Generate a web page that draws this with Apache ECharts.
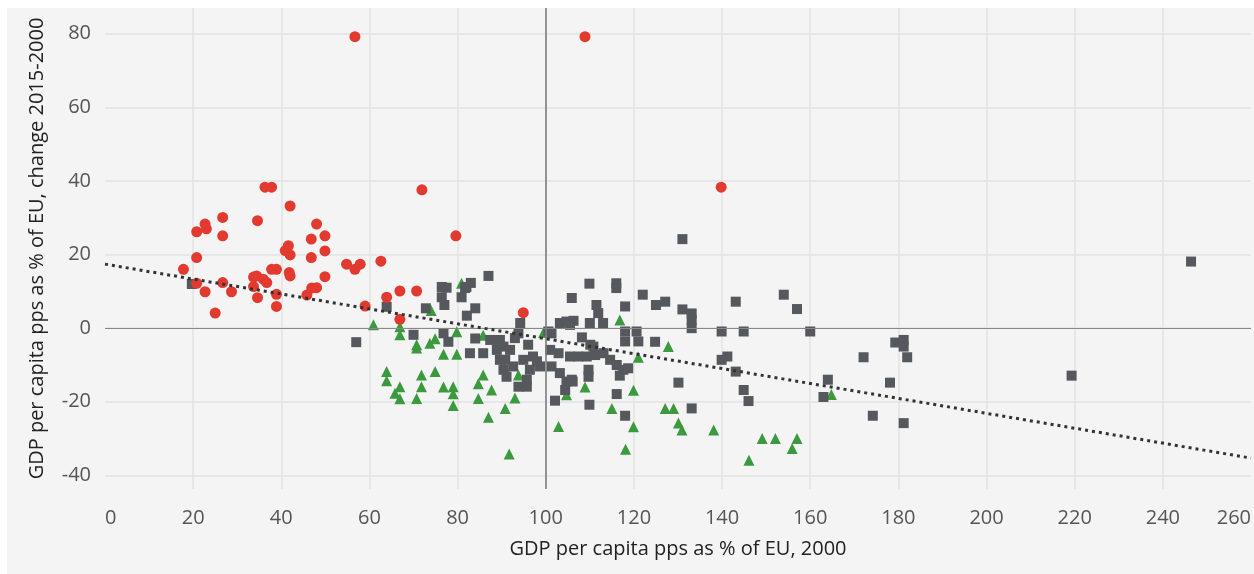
<!DOCTYPE html>
<html>
<head>
<meta charset="utf-8">
<script src="https://cdn.jsdelivr.net/npm/echarts@6/dist/echarts.min.js"></script>
<style>
  html, body { margin: 0; padding: 0; background: #ffffff; }
  #chart { position: absolute; left: 7px; top: 8px; width: 1247px; height: 566px; }
</style>
</head>
<body>
<div id="chart"></div>
<script>
// red circles
const redPts = [
  [56.7, 79.2], [108.9, 79.2], [139.8, 38.3], [36.3, 38.3], [37.8, 38.3], [42, 33.2],
  [26.7, 30.1], [34.6, 29.2], [22.7, 28.3], [23, 27], [20.8, 26.2], [26.7, 25.1],
  [48, 28.3], [46.8, 24.2], [49.9, 25.1], [41.6, 22.4], [40.9, 21.1], [42, 19.9],
  [49.9, 21.0], [46.8, 19.2], [20.8, 19.2], [17.8, 16.0], [54.8, 17.4], [56.7, 16.0],
  [57.9, 17.4], [62.6, 18.2], [37.8, 16.0], [38.9, 16.0], [41.8, 15.1], [42, 14.2],
  [49.9, 14.0], [33.7, 13.9], [34.4, 14.2], [35.9, 13.3], [36.7, 12.4], [33.7, 11.3],
  [20.8, 12.2], [26.7, 12.4], [22.7, 9.9], [28.7, 9.9], [34.6, 8.3], [38.9, 9.2],
  [38.9, 5.9], [45.8, 9.0], [46.9, 10.9], [48, 11.0], [25, 4.1], [59, 6.0],
  [71.9, 37.6], [79.6, 25.1], [63.9, 8.4], [66.9, 10.1], [70.7, 10.1], [66.9, 2.4],
  [94.9, 4.2]
];

// grey squares
const greyPts = [
  [19.7, 12.0], [57.0, -3.8], [63.9, 5.8], [70, -1.8], [72.8, 5.4], [76.4, 11.2],
  [77.5, 11.0], [76.4, 8.4], [77, 6.3], [80.9, 8.4], [81.7, 10.9], [82, 11.2],
  [83, 12.3], [87, 14.2], [84, 5.4], [82.1, 3.4], [76.8, -1.4], [77.9, -3.7],
  [84, -2.8], [82.8, -6.8], [85.8, -6.8], [87.4, -3.2], [89.6, -3.2], [90.4, -5],
  [88.9, -5.9], [89.6, -8.6], [90.4, -11.3], [91.1, -13.2], [91.9, -5.9], [92.6, -10.4],
  [93, -2.7], [94.2, 1.4], [93.8, -1.4], [93.8, -15.9], [95.7, -15.9], [95.7, -14],
  [96, -4.5], [97.1, -7.7], [96.4, -11.3], [94.9, -8.6], [98.7, -10.4], [98, -9],
  [101.3, -1.4], [101, -5.9], [101.3, -10.4], [102.9, -6.8], [102.1, -19.7], [103.2, 1.4],
  [104.7, 1.8], [106.3, 2.0], [105.9, 8.2], [103.2, -12.2], [104.7, -14.5], [105.9, -14],
  [104.4, -16.8], [105.5, 0.9], [107.4, -7.7], [105.5, -7.7], [109.3, -7.7], [111.2, -7.3],
  [108.2, -2.5], [110.1, -4.5], [110.8, -5], [110, 1.4], [111.9, 4.1], [111.5, 6.3],
  [113, 1.4], [109.9, 12.1], [116, 12.2], [116, 10.9], [122, 9.1], [125, 6.3],
  [127.1, 7.2], [118, 5.9], [109.7, -11.3], [109.7, -13.2], [106.1, -14.5], [113.1, -6.8],
  [114.6, -8.6], [116.1, -10], [117.6, -11.3], [118.7, -10.9], [116.8, -12.9], [116.1, -17.9],
  [109.9, -20.8], [118, -23.8], [118, -0.9], [120.6, -0.9], [118, -3.6], [121, -3.6],
  [124.8, -3.7], [131, 24.2], [131, 5.1], [133.1, 4.0], [133.1, 2.3], [133.1, 0],
  [130.1, -14.8], [133.1, -21.8], [139.9, -0.9], [139.9, -8.6], [141.2, -7.7], [143.1, 7.2],
  [143.1, -11.8], [144.9, -0.9], [144.9, -16.8], [146, -19.8], [154, 9.1], [157, 5.2],
  [160, -0.9], [163, -18.7], [164, -14], [172.1, -7.9], [174.2, -23.8], [178.1, -14.8],
  [179.3, -3.9], [181.2, -3.2], [181.2, -5], [182, -7.9], [181.2, -25.8], [219.3, -12.9],
  [246.4, 18.1], [100.6, -0.9], [90.8, -8.6]
];

// green triangles
const greenPts = [
  [60.9, 0.9], [66.9, 0.4], [66.9, -1.8], [70.7, -4.5], [70.7, -5.4], [73.7, -4.1],
  [74.9, -2.9], [74, 4.8], [76.8, -7.1], [79.8, -7.1], [79.8, -1.0], [80.9, 12.2],
  [85.8, -1.9], [63.9, -11.8], [63.9, -14.3], [66.9, -15.9], [65.8, -17.7], [66.9, -19.2],
  [71.8, -12.7], [71.8, -15.9], [74.9, -11.8], [70.7, -19.1], [76.8, -16.0], [79, -15.9],
  [79, -17.8], [79, -21], [84.7, -15.1], [85.8, -12.7], [84.7, -19.1], [87.7, -16.8],
  [87, -24.2], [90.8, -21.8], [91.7, -34.2], [93.8, -12.7], [93, -19], [90.8, -10.9],
  [99.5, -1.2], [104.7, -18.1], [102.9, -26.7], [108.9, -16], [115, -21.8], [116.8, 2.2],
  [119.9, -16.9], [121, -7.9], [119.9, -26.8], [118.1, -32.9], [127.8, -5], [127.1, -21.8],
  [129, -21.8], [130.1, -25.8], [130.9, -27.7], [138.1, -27.7], [146.1, -35.9], [149.1, -30],
  [152.1, -30], [157, -30], [155.9, -32.7], [164.8, -18]
];

// linear trend, end points
const trendX = [0, 260];
const trendY = [17.4, -35.3];

const xTitle = "GDP per capita pps as % of EU, 2000";
const yTitle = "GDP per capita pps as % of EU, change 2015-2000";

const chart = echarts.init(document.getElementById("chart"));
const font = "'Open Sans', 'DejaVu Sans', sans-serif";

chart.setOption({
  backgroundColor: "#f4f4f4",
  animation: false,
  textStyle: { fontFamily: font },
  grid: { left: 98, right: 2, top: 0, bottom: 85, containLabel: false },
  xAxis: {
    type: "value",
    min: 0,
    max: 260,
    interval: 20,
    name: xTitle,
    nameLocation: "middle",
    nameGap: 50,
    nameTextStyle: { fontSize: 20, color: "#222", fontFamily: font },
    axisLine: { show: false },
    axisTick: { show: false },
    axisLabel: {
      fontSize: 20, color: "#555", margin: 19,
      alignMinLabel: "left", alignMaxLabel: "right"
    },
    splitLine: { show: true, showMinLine: false, showMaxLine: false, lineStyle: { color: "#e3e3e3", width: 1.5 } }
  },
  yAxis: {
    type: "value",
    min: -43.7,
    max: 87,
    minInterval: 20,
    maxInterval: 20,
    splitNumber: 6,
    name: yTitle,
    nameLocation: "middle",
    nameGap: 58,
    nameTextStyle: { fontSize: 20, color: "#222", fontFamily: font },
    axisLine: { show: false },
    axisTick: { show: false },
    axisLabel: { fontSize: 20, color: "#555", margin: 14, showMinLabel: false, showMaxLabel: false },
    splitLine: { show: true, showMinLine: false, showMaxLine: false, lineStyle: { color: "#e3e3e3", width: 1.5 } }
  },
  series: [
    {
      name: "green",
      type: "scatter",
      symbol: "triangle",
      symbolSize: 11,
      itemStyle: { color: "#3b9a3e", opacity: 1 },
      data: greenPts,
      markLine: {
        silent: true,
        symbol: "none",
        label: { show: false },
        data: [
          { yAxis: 0, lineStyle: { color: "#888", width: 1.2, type: "solid" } },
          { xAxis: 100, lineStyle: { color: "#7f7f7f", width: 1.6, type: "solid" } }
        ]
      }
    },
    {
      name: "grey",
      type: "scatter",
      symbol: "rect",
      symbolSize: 10,
      itemStyle: { color: "#55585d", opacity: 1 },
      data: greyPts
    },
    {
      name: "red",
      type: "scatter",
      symbol: "circle",
      symbolSize: 11,
      itemStyle: { color: "#e33a2f", opacity: 1 },
      data: redPts
    },
    {
      name: "trend",
      type: "line",
      symbol: "none",
      silent: true,
      lineStyle: { color: "#333", width: 3, type: [3, 4] },
      data: trendX.map((x, i) => [x, trendY[i]]),
      z: 5
    }
  ]
});
</script>
</body>
</html>
